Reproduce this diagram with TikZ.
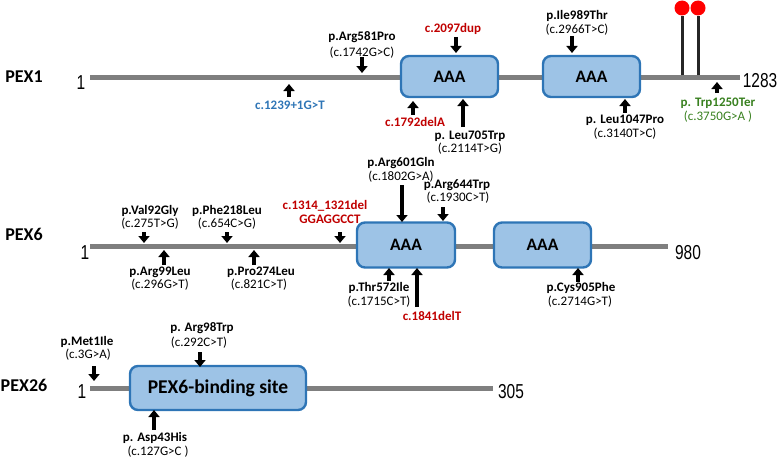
\documentclass[tikz,border=0pt]{standalone}
\usepackage{fontspec}
\usepackage{graphicx}
\setmainfont{Carlito}
\newfontfamily\numfont{Liberation Sans}
\usetikzlibrary{arrows.meta}
\definecolor{bar}{HTML}{7F7F7F}
\definecolor{domline}{HTML}{2E75B6}
\definecolor{domfill}{HTML}{9DC3E6}
\definecolor{mred}{HTML}{C00000}
\definecolor{mblue}{HTML}{2E75B6}
\definecolor{mgreen}{HTML}{38801F}
\definecolor{stemcol}{HTML}{262626}
\newcommand\mutarr[4]{\coordinate (#1t) at (#2,#3); \coordinate (#1h) at (#2,#4); \draw[mut] (#1t) -- (#1h);}
\tikzset{
 backbone/.style={draw=bar, line width=5pt},
 dombox/.style={draw=domline, fill=domfill, line width=2.4pt, rounded corners=8pt, inner sep=0pt, font=\fontsize{17.5}{17.5}\selectfont\bfseries},
 mut/.style={line width=4pt, -{Triangle[width=11pt,length=7pt]}},
 lbl/.style={font=\fontsize{13}{13}\selectfont\bfseries, inner sep=0pt, text height=0.65em, text depth=0pt},
 sub/.style={font=\fontsize{13}{13}\selectfont, inner sep=0pt, text height=0.65em, text depth=0pt},
 gene/.style={font=\fontsize{18}{18}\selectfont\bfseries, inner sep=0pt, text height=0.65em, text depth=0pt},
 num/.style={font=\fontsize{15.5}{15.5}\selectfont\numfont, inner sep=0pt},
 stem/.style={draw=stemcol, line width=3pt},
 lolli/.style={circle, fill=red, minimum size=15pt, inner sep=0pt},
}
\begin{document}
\begin{tikzpicture}[x=1pt,y=-1pt]
\useasboundingbox (0,0) rectangle (778,460);
% ---------------- PEX1 ----------------
\node[gene] (g1) at (24,79) {PEX1};
\node[num] (s1) at (81,83) {\scalebox{1}[1.3]{1}};
\node[num] (e1) at (760,81) {\scalebox{1}[1.3]{1283}};
\coordinate (p1s) at (90,77); \coordinate (p1e) at (740,77);
\draw[backbone] (p1s) -- (p1e);
\node[dombox, minimum width=97pt, minimum height=41pt] (d1a) at (449.5,76.5) {AAA};
\node[dombox, minimum width=97pt, minimum height=41pt] (d1b) at (591.5,76.5) {AAA};
\node[lolli] (l1) at (682,8) {};
\node[lolli] (l2) at (698,8) {};
\coordinate (l1b) at (682,75); \coordinate (l2b) at (698,75);
\draw[stem] (l1b) -- (l1.south);
\draw[stem] (l2b) -- (l2.south);
\mutarr{a1}{289}{97}{84}
\node[lbl, mblue] (t1) at (290,106) {c.1239+1G>T};
\mutarr{a2}{362}{57}{73}
\node[lbl] (t2) at (362,37) {p.Arg581Pro};
\node[sub] (u2) at (362,53) {(c.1742G>C)};
\mutarr{a3}{456}{37}{53}
\node[lbl, mred] (t3) at (453,29) {c.2097dup};
\mutarr{a4}{413}{115}{101}
\node[lbl, mred] (t4) at (415,123) {c.1792delA};
\mutarr{a5}{463}{127}{99}
\node[lbl] (t5) at (470,136) {p. Leu705Trp};
\node[sub] (u5) at (470,149) {(c.2114T>G)};
\mutarr{a6}{572}{36}{53}
\node[lbl] (t6) at (577,16) {p.Ile989Thr};
\node[sub] (u6) at (577,30) {(c.2966T>C)};
\mutarr{a7}{625}{113}{99}
\node[lbl] (t7) at (625,120) {p. Leu1047Pro};
\node[sub] (u7) at (625,134) {(c.3140T>C)};
\mutarr{a8}{717}{93}{82}
\node[lbl, mgreen] (t8) at (718,103) {p. Trp1250Ter};
\node[sub, mgreen] (u8) at (718,117) {(c.3750G>A )};
% ---------------- PEX6 ----------------
\node[gene] (g6) at (24,237) {PEX6};
\node[num] (s6) at (85,253) {\scalebox{1}[1.3]{1}};
\node[num] (e6) at (688,253) {\scalebox{1}[1.3]{980}};
\coordinate (p6s) at (90,246); \coordinate (p6e) at (668,246);
\draw[backbone] (p6s) -- (p6e);
\node[dombox, minimum width=98pt, minimum height=45pt] (d6a) at (406,245) {AAA};
\node[dombox, minimum width=97pt, minimum height=45pt] (d6b) at (542.5,245) {AAA};
\mutarr{b1}{144}{232}{243}
\node[lbl] (v1) at (150,211) {p.Val92Gly};
\node[sub] (w1) at (150,224) {(c.275T>G)};
\mutarr{b2}{164}{265}{250}
\node[lbl] (v2) at (160,272) {p.Arg99Leu};
\node[sub] (w2) at (160,285) {(c.296G>T)};
\mutarr{b3}{227}{232}{243}
\node[lbl] (v3) at (227,211) {p.Phe218Leu};
\node[sub] (w3) at (227,224) {(c.654C>G)};
\mutarr{b4}{254}{265}{250}
\node[lbl] (v4) at (261,272) {p.Pro274Leu};
\node[sub] (w4) at (259,285) {(c.821C>T)};
\mutarr{b5}{340}{232}{243}
\node[lbl, mred] (v5) at (325,206) {c.1314\_1321del};
\node[lbl, mred] (w5) at (330,220) {GGAGGCCT};
\mutarr{b6}{402}{185}{222}
\node[lbl] (v6) at (401,163) {p.Arg601Gln};
\node[sub] (w6) at (401,177) {(c.1802G>A)};
\mutarr{b7}{443}{207}{221}
\node[lbl] (v7) at (457,185) {p.Arg644Trp};
\node[sub] (w7) at (458,198) {(c.1930C>T)};
\mutarr{b8}{389}{281}{268}
\node[lbl] (v8) at (379,288) {p.Thr572Ile};
\node[sub] (w8) at (379,302) {(c.1715C>T)};
\mutarr{b9}{417}{307}{268}
\node[lbl, mred] (v9) at (432,317) {c.1841delT};
\mutarr{b10}{578}{282}{268}
\node[lbl] (v10) at (581,288) {p.Cys905Phe};
\node[sub] (w10) at (580,302) {(c.2714G>T)};
% ---------------- PEX26 ----------------
\node[gene] (g26) at (24,388) {PEX26};
\node[num] (s26) at (82,392) {\scalebox{1}[1.3]{1}};
\node[num] (e26) at (511,392) {\scalebox{1}[1.3]{305}};
\coordinate (p26s) at (90,388); \coordinate (p26e) at (493,388);
\draw[backbone] (p26s) -- (p26e);
\node[dombox, minimum width=176pt, minimum height=44pt, font=\fontsize{19.5}{19.5}\selectfont\bfseries] (d26) at (218,388) {PEX6-binding site};
\mutarr{c1}{94}{366}{381}
\node[lbl] (x1) at (87,342) {p.Met1Ile};
\node[sub] (y1) at (88,355) {(c.3G>A)};
\mutarr{c2}{200}{352}{367}
\node[lbl] (x2) at (202,328) {p. Arg98Trp};
\node[sub] (y2) at (199,343) {(c.292C>T)};
\mutarr{c3}{154}{430}{410}
\node[lbl] (x3) at (155,438) {p. Asp43His};
\node[sub] (y3) at (158,452) {(c.127G>C )};
\end{tikzpicture}
\end{document}
